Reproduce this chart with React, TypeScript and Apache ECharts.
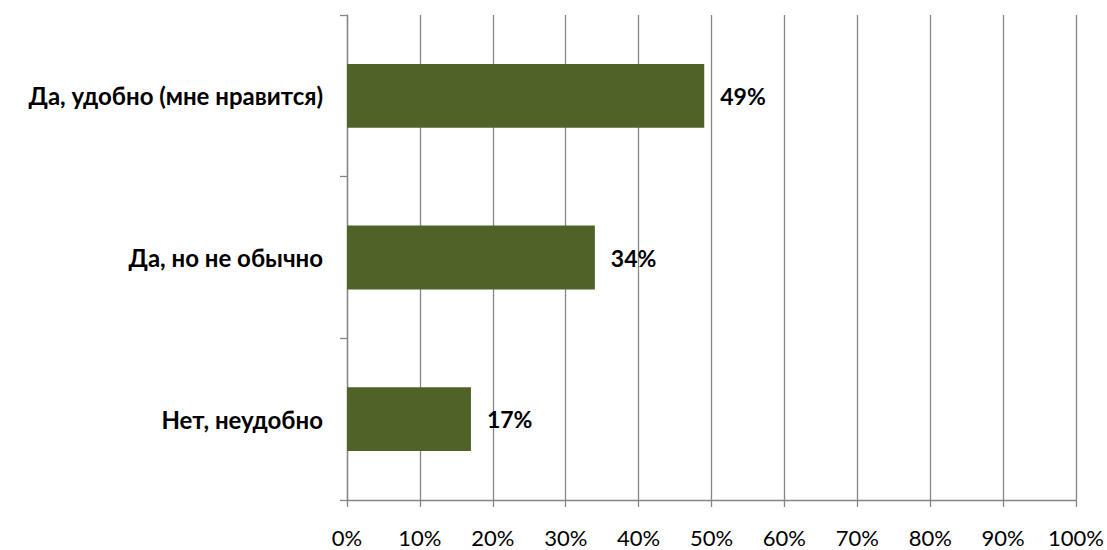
import React, { useEffect, useRef } from "react";
import * as echarts from "echarts";

const categories = ["Да, удобно (мне нравится)", "Да, но не обычно", "Нет, неудобно"];
const values = [49, 34, 17];
const FONT = "Lato, 'Open Sans', sans-serif";

export default function App() {
  const ref = useRef<HTMLDivElement>(null);
  useEffect(() => {
    if (!ref.current) return;
    const chart = echarts.init(ref.current, null, { renderer: "svg" });
    chart.setOption({
      animation: false,
      grid: { left: 347, right: 29, top: 15, bottom: 50, containLabel: false },
      xAxis: {
        type: "value",
        min: 0,
        max: 100,
        interval: 10,
        axisLine: { show: true, lineStyle: { color: "#868686", width: 1.3 } },
        axisTick: { show: true, length: 7, lineStyle: { color: "#868686", width: 1.3 } },
        splitLine: { show: true, lineStyle: { color: "#868686", width: 1.3 } },
        axisLabel: {
          formatter: "{value}%",
          color: "#000",
          fontFamily: FONT,
          fontSize: 22,
          margin: 26,
        },
      },
      yAxis: {
        type: "category",
        data: categories,
        inverse: true,
        axisLine: { show: true, lineStyle: { color: "#868686", width: 1.3 } },
        axisTick: { show: true, length: 7, lineStyle: { color: "#868686", width: 1.3 } },
        axisLabel: {
          color: "#000",
          fontFamily: FONT,
          fontSize: 24,
          fontWeight: "bold",
          margin: 24,
        },
      },
      series: [
        {
          type: "bar",
          data: values,
          barWidth: "39.5%",
          itemStyle: { color: "#4F6228" },
          label: {
            show: true,
            position: "right",
            distance: 16,
            formatter: "{c}%",
            color: "#000",
            fontFamily: FONT,
            fontSize: 23,
            fontWeight: "bold",
          },
        },
      ],
    });
    return () => chart.dispose();
  }, []);
  return (
    <div
      ref={ref}
      style={{ position: "fixed", left: 0, top: 0, width: 1107, height: 550, background: "#fff" }}
    />
  );
}
